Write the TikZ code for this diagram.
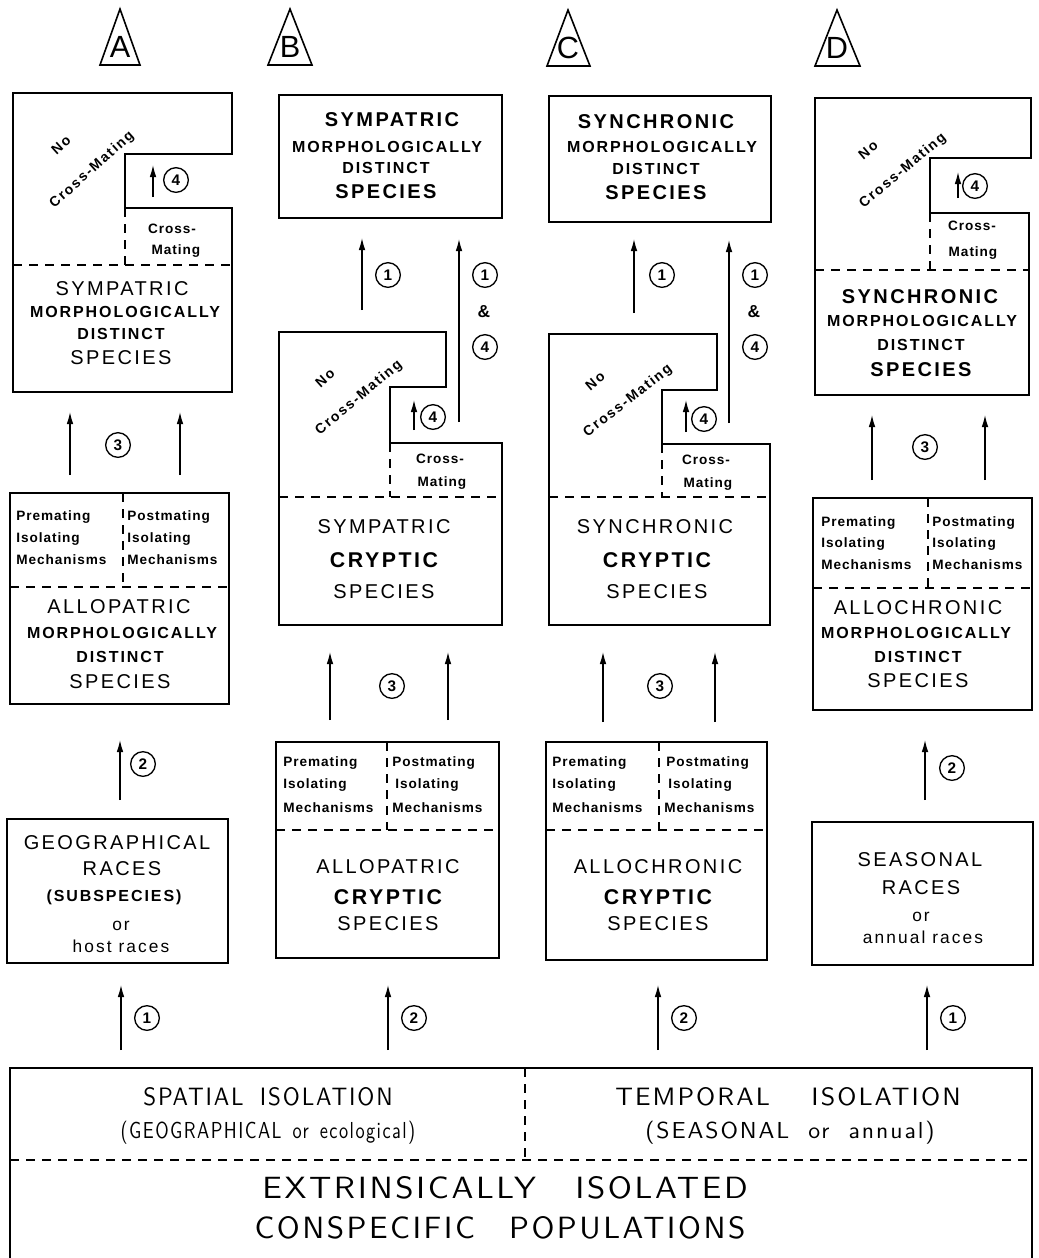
\documentclass[tikz,border=0pt]{standalone}
\usepackage{fontspec}
\usetikzlibrary{arrows.meta}
\newfontfamily\lab[LetterSpace=12]{Liberation Sans}
\newfontfamily\labs[LetterSpace=7]{Liberation Sans}
\newfontfamily\thinf[LetterSpace=8]{lmsans10-regular.otf}
\begin{document}
\begin{tikzpicture}[x=0.75pt,y=-0.75pt,
  box/.style={line width=1.5pt, line join=miter},
  dline/.style={dash pattern=on 7pt off 5pt, line width=0.9pt},
  arr/.style={-{Latex[length=9pt,width=5pt]}, line width=1pt},
  num/.style={circle, draw, line width=1pt, minimum size=18.5pt, inner sep=0pt, font=\lab\bfseries\fontsize{11.5}{11.5}\selectfont},
  big/.style={font=\lab\fontsize{15}{15}\selectfont},
  bigb/.style={font=\lab\bfseries\fontsize{15}{15}\selectfont},
  cry/.style={font=\lab\bfseries\fontsize{16}{16}\selectfont},
  mid/.style={font=\lab\bfseries\fontsize{12}{12}\selectfont},
  sm/.style={font=\labs\bfseries\fontsize{10.2}{10.2}\selectfont, inner sep=0pt},
  rot/.style={font=\lab\bfseries\fontsize{10.5}{10.5}\selectfont, inner sep=0pt},
  low/.style={font=\lab\fontsize{13}{13}\selectfont, inner sep=0pt},
  amp/.style={font=\lab\bfseries\fontsize{13}{13}\selectfont, inner sep=0pt},
  tri/.style={line width=1.2pt, line join=miter},
  trl/.style={font=\lab\fontsize{23}{23}\selectfont}]
\useasboundingbox (0,0) rectangle (1039,1258);

% ---------- triangles ----------
\draw[tri] (100,65) -- (120,9) -- (140,65) -- cycle;
\node[trl] (tA) at (120,47) {A};
\draw[tri] (268,65) -- (290,9) -- (312,65) -- cycle;
\node[trl] (tB) at (290,47) {B};
\draw[tri] (547,66) -- (568,10) -- (590,66) -- cycle;
\node[trl] (tC) at (568,48) {C};
\draw[tri] (815,66) -- (837,10) -- (860,66) -- cycle;
\node[trl] (tD) at (837,48) {D};

% ================= COLUMN A =================
\draw[box] (13,93) -- (232,93) -- (232,154) -- (125,154) -- (125,208) -- (232,208) -- (232,392) -- (13,392) -- cycle;
\draw[dline] (125,208) -- (125,265);
\draw[dline] (13,265) -- (232,265);
\node[rot, rotate=42] (aNo) at (61,145) {No};
\node[rot, rotate=42] (aNoCM) at (92,170) {Cross-Mating};
\coordinate (a4s) at (153,197); \coordinate (a4e) at (153,165);
\draw[arr] (a4s) -- (a4e);
\node[num] (a4c) at (176,180) {4};
\node[sm] (aCM1) at (172,229) {Cross-};
\node[sm] (aCM2) at (176,251) {Mating};
\node[big] (aS1) at (122,289) {SYMPATRIC};
\node[mid] (aS2) at (125,312) {MORPHOLOGICALLY};
\node[mid] (aS3) at (121,334) {DISTINCT};
\node[big] (aS4) at (121,358) {SPECIES};

\coordinate (a3ls) at (70,475); \coordinate (a3le) at (70,412);
\coordinate (a3rs) at (180,475); \coordinate (a3re) at (180,412);
\draw[arr] (a3ls) -- (a3le);
\draw[arr] (a3rs) -- (a3re);
\node[num] (a3c) at (118,445) {3};

\draw[box] (10,493) rectangle (229,704);
\draw[dline] (123,493) -- (123,587);
\draw[dline] (10,587) -- (229,587);
\node[sm, anchor=west] (aPre1) at (16,517) {Premating};
\node[sm, anchor=west] (aPre2) at (16,539) {Isolating};
\node[sm, anchor=west] (aPre3) at (16,560) {Mechanisms};
\node[sm, anchor=west] (aPost1) at (127,517) {Postmating};
\node[sm, anchor=west] (aPost2) at (127,539) {Isolating};
\node[sm, anchor=west] (aPost3) at (127,560) {Mechanisms};
\node[big] (aA1) at (119,607) {ALLOPATRIC};
\node[mid] (aA2) at (122,633) {MORPHOLOGICALLY};
\node[mid] (aA3) at (120,657) {DISTINCT};
\node[big] (aA4) at (120,682) {SPECIES};

\coordinate (a2s) at (120,800); \coordinate (a2e) at (120,740);
\draw[arr] (a2s) -- (a2e);
\node[num] (a2c) at (143,764) {2};

\draw[box] (7,819) rectangle (228,963);
\node[big] (aG1) at (117,843) {GEOGRAPHICAL};
\node[big] (aG2) at (122,869) {RACES};
\node[mid] (aG3) at (114,897) {(SUBSPECIES)};
\node[low] (aG4) at (121,926) {or};
\node[low] (aG5) at (121,946) {host races};

\coordinate (a1s) at (121,1050); \coordinate (a1e) at (121,985);
\draw[arr] (a1s) -- (a1e);
\node[num] (a1c) at (147,1018) {1};

% ================= COLUMN B =================
\draw[box] (279,95) rectangle (502,218);
\node[bigb] (bS1) at (392,120) {SYMPATRIC};
\node[mid] (bS2) at (387,147) {MORPHOLOGICALLY};
\node[mid] (bS3) at (386,168) {DISTINCT};
\node[bigb] (bS4) at (386,192) {SPECIES};

\coordinate (b1ls) at (362,310); \coordinate (b1le) at (362,238);
\draw[arr] (b1ls) -- (b1le);
\node[num] (b1c) at (388,275) {1};
\coordinate (b14s) at (459,422); \coordinate (b14e) at (459,239);
\draw[arr] (b14s) -- (b14e);
\node[num] (b14a) at (485,275) {1};
\node[amp] (b14amp) at (484,312) {\&};
\node[num] (b14b) at (485,347) {4};

\draw[box] (279,332) -- (446,332) -- (446,387) -- (390,387) -- (390,443) -- (502,443) -- (502,625) -- (279,625) -- cycle;
\draw[dline] (390,443) -- (390,497);
\draw[dline] (279,497) -- (502,497);
\node[rot, rotate=42] (bNo) at (325,378) {No};
\node[rot, rotate=40] (bNoCM) at (359,398) {Cross-Mating};
\coordinate (b4s) at (414,430); \coordinate (b4e) at (414,400);
\draw[arr] (b4s) -- (b4e);
\node[num] (b4c) at (433,417) {4};
\node[sm] (bCM1) at (440,459) {Cross-};
\node[sm] (bCM2) at (442,483) {Mating};
\node[big] (bY1) at (384,527) {SYMPATRIC};
\node[cry] (bY2) at (384,560) {CRYPTIC};
\node[big] (bY3) at (384,592) {SPECIES};

\coordinate (b3ls) at (330,720); \coordinate (b3le) at (330,652);
\coordinate (b3rs) at (448,720); \coordinate (b3re) at (448,652);
\draw[arr] (b3ls) -- (b3le);
\draw[arr] (b3rs) -- (b3re);
\node[num] (b3c) at (392,686) {3};

\draw[box] (276,742) rectangle (499,958);
\draw[dline] (387,742) -- (387,830);
\draw[dline] (276,830) -- (499,830);
\node[sm, anchor=west] (bPre1) at (283,763) {Premating};
\node[sm, anchor=west] (bPre2) at (283,785) {Isolating};
\node[sm, anchor=west] (bPre3) at (283,808) {Mechanisms};
\node[sm, anchor=west] (bPost1) at (392,763) {Postmating};
\node[sm, anchor=west] (bPost2) at (395,785) {Isolating};
\node[sm, anchor=west] (bPost3) at (392,808) {Mechanisms};
\node[big] (bA1) at (388,867) {ALLOPATRIC};
\node[cry] (bA2) at (388,897) {CRYPTIC};
\node[big] (bA3) at (388,924) {SPECIES};

\coordinate (b2s) at (388,1050); \coordinate (b2e) at (388,985);
\draw[arr] (b2s) -- (b2e);
\node[num] (b2c) at (414,1018) {2};

% ================= COLUMN C =================
\draw[box] (549,96) rectangle (771,222);
\node[bigb] (cS1) at (656,122) {SYNCHRONIC};
\node[mid] (cS2) at (662,147) {MORPHOLOGICALLY};
\node[mid] (cS3) at (656,169) {DISTINCT};
\node[bigb] (cS4) at (656,193) {SPECIES};

\coordinate (c1ls) at (634,313); \coordinate (c1le) at (634,239);
\draw[arr] (c1ls) -- (c1le);
\node[num] (c1c) at (662,275) {1};
\coordinate (c14s) at (729,423); \coordinate (c14e) at (729,240);
\draw[arr] (c14s) -- (c14e);
\node[num] (c14a) at (755,275) {1};
\node[amp] (c14amp) at (754,312) {\&};
\node[num] (c14b) at (755,347) {4};

\draw[box] (549,334) -- (717,334) -- (717,390) -- (662,390) -- (662,444) -- (770,444) -- (770,625) -- (549,625) -- cycle;
\draw[dline] (662,444) -- (662,497);
\draw[dline] (549,497) -- (770,497);
\node[rot, rotate=40] (cNo) at (595,381) {No};
\node[rot, rotate=38] (cNoCM) at (628,401) {Cross-Mating};
\coordinate (c4s) at (686,432); \coordinate (c4e) at (686,400);
\draw[arr] (c4s) -- (c4e);
\node[num] (c4c) at (704,419) {4};
\node[sm] (cCM1) at (706,460) {Cross-};
\node[sm] (cCM2) at (708,484) {Mating};
\node[big] (cY1) at (655,527) {SYNCHRONIC};
\node[cry] (cY2) at (657,560) {CRYPTIC};
\node[big] (cY3) at (657,592) {SPECIES};

\coordinate (c3ls) at (603,722); \coordinate (c3le) at (603,652);
\coordinate (c3rs) at (715,722); \coordinate (c3re) at (715,652);
\draw[arr] (c3ls) -- (c3le);
\draw[arr] (c3rs) -- (c3re);
\node[num] (c3c) at (660,686) {3};

\draw[box] (546,742) rectangle (767,960);
\draw[dline] (659,742) -- (659,830);
\draw[dline] (546,830) -- (767,830);
\node[sm, anchor=west] (cPre1) at (552,763) {Premating};
\node[sm, anchor=west] (cPre2) at (552,785) {Isolating};
\node[sm, anchor=west] (cPre3) at (552,808) {Mechanisms};
\node[sm, anchor=west] (cPost1) at (666,763) {Postmating};
\node[sm, anchor=west] (cPost2) at (668,785) {Isolating};
\node[sm, anchor=west] (cPost3) at (664,808) {Mechanisms};
\node[big] (cA1) at (658,867) {ALLOCHRONIC};
\node[cry] (cA2) at (658,897) {CRYPTIC};
\node[big] (cA3) at (658,924) {SPECIES};

\coordinate (c2s) at (658,1050); \coordinate (c2e) at (658,985);
\draw[arr] (c2s) -- (c2e);
\node[num] (c2c) at (684,1018) {2};

% ================= COLUMN D =================
\draw[box] (815,98) -- (1031,98) -- (1031,158) -- (930,158) -- (930,213) -- (1029,213) -- (1029,395) -- (815,395) -- cycle;
\draw[dline] (930,213) -- (930,270);
\draw[dline] (815,270) -- (1029,270);
\node[rot, rotate=40] (dNo) at (868,150) {No};
\node[rot, rotate=40] (dNoCM) at (903,171) {Cross-Mating};
\coordinate (d4s) at (958,198); \coordinate (d4e) at (958,172);
\draw[arr] (d4s) -- (d4e);
\node[num] (d4c) at (975,186) {4};
\node[sm] (dCM1) at (972,226) {Cross-};
\node[sm] (dCM2) at (973,253) {Mating};
\node[bigb] (dS1) at (920,297) {SYNCHRONIC};
\node[mid] (dS2) at (922,321) {MORPHOLOGICALLY};
\node[mid] (dS3) at (921,345) {DISTINCT};
\node[bigb] (dS4) at (921,370) {SPECIES};

\coordinate (d3ls) at (872,480); \coordinate (d3le) at (872,415);
\coordinate (d3rs) at (985,480); \coordinate (d3re) at (985,415);
\draw[arr] (d3ls) -- (d3le);
\draw[arr] (d3rs) -- (d3re);
\node[num] (d3c) at (925,447) {3};

\draw[box] (813,498) rectangle (1032,710);
\draw[dline] (928,498) -- (928,588);
\draw[dline] (813,588) -- (1032,588);
\node[sm, anchor=west] (dPre1) at (821,523) {Premating};
\node[sm, anchor=west] (dPre2) at (821,544) {Isolating};
\node[sm, anchor=west] (dPre3) at (821,565) {Mechanisms};
\node[sm, anchor=west] (dPost1) at (932,523) {Postmating};
\node[sm, anchor=west] (dPost2) at (932,544) {Isolating};
\node[sm, anchor=west] (dPost3) at (932,565) {Mechanisms};
\node[big] (dA1) at (918,608) {ALLOCHRONIC};
\node[mid] (dA2) at (916,633) {MORPHOLOGICALLY};
\node[mid] (dA3) at (918,657) {DISTINCT};
\node[big] (dA4) at (918,681) {SPECIES};

\coordinate (d2s) at (925,800); \coordinate (d2e) at (925,740);
\draw[arr] (d2s) -- (d2e);
\node[num] (d2c) at (952,768) {2};

\draw[box] (812,822) rectangle (1033,965);
\node[big] (dG1) at (920,860) {SEASONAL};
\node[big] (dG2) at (921,888) {RACES};
\node[low] (dG3) at (921,917) {or};
\node[low] (dG4) at (923,937) {annual races};

\coordinate (d1s) at (927,1050); \coordinate (d1e) at (927,985);
\draw[arr] (d1s) -- (d1e);
\node[num] (d1c) at (953,1018) {1};

% ================= BOTTOM =================
\draw[box] (10,1258) -- (10,1068) -- (1032,1068) -- (1032,1258);
\draw[dline] (525,1068) -- (525,1160);
\draw[dline] (10,1160) -- (1032,1160);
\node[inner sep=0pt] (sp1) at (268,1097) {\resizebox{187pt}{13.5pt}{\thinf SPATIAL\hspace{0.7em}ISOLATION}};
\node[inner sep=0pt] (sp2) at (268,1133) {\resizebox{221pt}{13pt}{\thinf (GEOGRAPHICAL\hspace{0.6em}or\hspace{0.6em}ecological)}};
\node[inner sep=0pt] (tp1) at (788,1097) {\resizebox{259pt}{13.5pt}{\thinf TEMPORAL\hspace{1.6em}ISOLATION}};
\node[inner sep=0pt] (tp2) at (790,1133) {\resizebox{217pt}{13pt}{\thinf (SEASONAL\hspace{0.8em}or\hspace{0.8em}annual)}};
\node[inner sep=0pt] (ex1) at (505,1188) {\resizebox{364pt}{16.5pt}{\thinf EXTRINSICALLY\hspace{1.2em}ISOLATED}};
\node[inner sep=0pt] (ex2) at (500,1228) {\resizebox{368pt}{16.5pt}{\thinf CONSPECIFIC\hspace{1.1em}POPULATIONS}};
\end{tikzpicture}
\end{document}
